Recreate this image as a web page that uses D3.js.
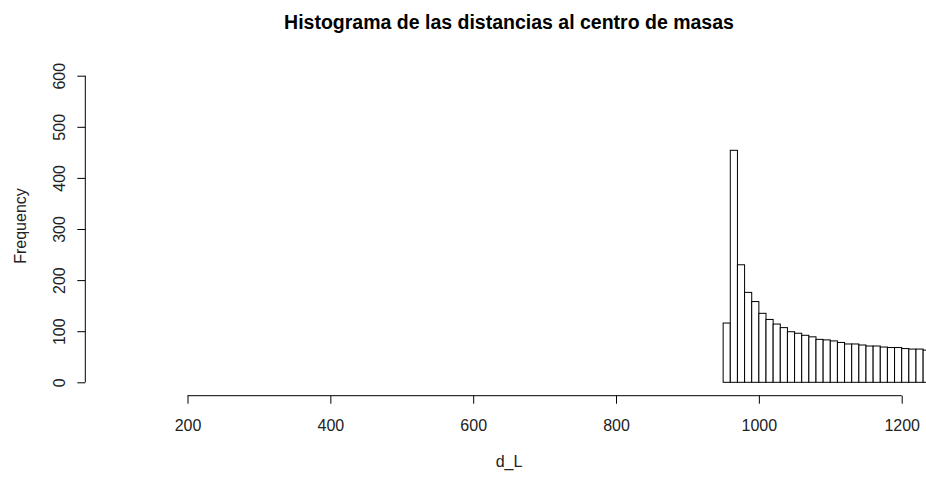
<!DOCTYPE html>
<html>
<head>
<meta charset="utf-8">
<script src="https://cdn.jsdelivr.net/npm/d3@7/dist/d3.min.js"></script>
<style>
  html, body { margin: 0; padding: 0; background: #fff; }
  svg { display: block; font-family: "Liberation Sans", Arial, sans-serif; }
</style>
</head>
<body>
<svg id="chart" width="926" height="477"></svg>
<script>
// Histogram bins: width 10, starting at 950
const binStart = 950;
const binWidth = 10;
const counts = [116, 454, 230, 176, 158, 135, 123, 114, 107, 99, 96, 92, 89, 84, 83, 81, 78, 75, 75, 73, 71, 71, 69, 68, 68, 66, 65, 65, 63];
const xTicks = [200, 400, 600, 800, 1000, 1200];
const yTicks = [0, 100, 200, 300, 400, 500, 600];

const svg = d3.select("#chart");
const font = "Liberation Sans, Arial, sans-serif";

const x = d3.scaleLinear().domain([200, 1200]).range([187.5, 901.7]);
const y = d3.scaleLinear().domain([0, 600]).range([382.3, 75.7]);

const bins = counts.map((c, i) => ({ x0: binStart + i * binWidth, x1: binStart + (i + 1) * binWidth, n: c }));

// Bars
svg.append("g")
  .selectAll("rect")
  .data(bins)
  .join("rect")
  .attr("x", d => x(d.x0))
  .attr("y", d => y(d.n))
  .attr("width", d => x(d.x1) - x(d.x0))
  .attr("height", d => y(0) - y(d.n))
  .attr("fill", "#fff")
  .attr("stroke", "#000")
  .attr("stroke-width", 1);

// X axis
const xAxis = svg.append("g")
  .attr("transform", "translate(0,395.7)")
  .call(d3.axisBottom(x).tickValues(xTicks).tickSize(8).tickFormat(d3.format("d")));
xAxis.select(".domain").attr("d", `M${x(200)},0H${x(1200)}`).attr("stroke", "#000");
xAxis.selectAll(".tick line").attr("stroke", "#000");
xAxis.selectAll("text")
  .attr("font-size", 16)
  .attr("fill", "#222")
  .attr("font-family", font)
  .attr("dy", null)
  .attr("y", 35.3);

// Y axis
const yAxis = svg.append("g")
  .attr("transform", "translate(85.3,0)")
  .call(d3.axisLeft(y).tickValues(yTicks).tickSize(8).tickFormat(d3.format("d")));
yAxis.select(".domain").attr("d", `M0,${y(0)}V${y(600)}`).attr("stroke", "#000");
yAxis.selectAll(".tick line").attr("stroke", "#000");
yAxis.selectAll("text")
  .attr("font-size", 16)
  .attr("fill", "#222")
  .attr("font-family", font)
  .attr("text-anchor", "middle")
  .attr("dy", null)
  .attr("x", null)
  .attr("transform", "translate(-20.3,0) rotate(-90)");

// Title
svg.append("text")
  .attr("x", 509)
  .attr("y", 29)
  .attr("text-anchor", "middle")
  .attr("font-size", 19.5)
  .attr("font-weight", "bold")
  .attr("fill", "#000")
  .attr("font-family", font)
  .text("Histograma de las distancias al centro de masas");

// Axis titles
svg.append("text")
  .attr("x", 509)
  .attr("y", 467)
  .attr("text-anchor", "middle")
  .attr("font-size", 16)
  .attr("fill", "#222")
  .attr("font-family", font)
  .text("d_L");

svg.append("text")
  .attr("transform", "translate(25.5,226) rotate(-90)")
  .attr("text-anchor", "middle")
  .attr("font-size", 16)
  .attr("fill", "#222")
  .attr("font-family", font)
  .text("Frequency");
</script>
</body>
</html>
